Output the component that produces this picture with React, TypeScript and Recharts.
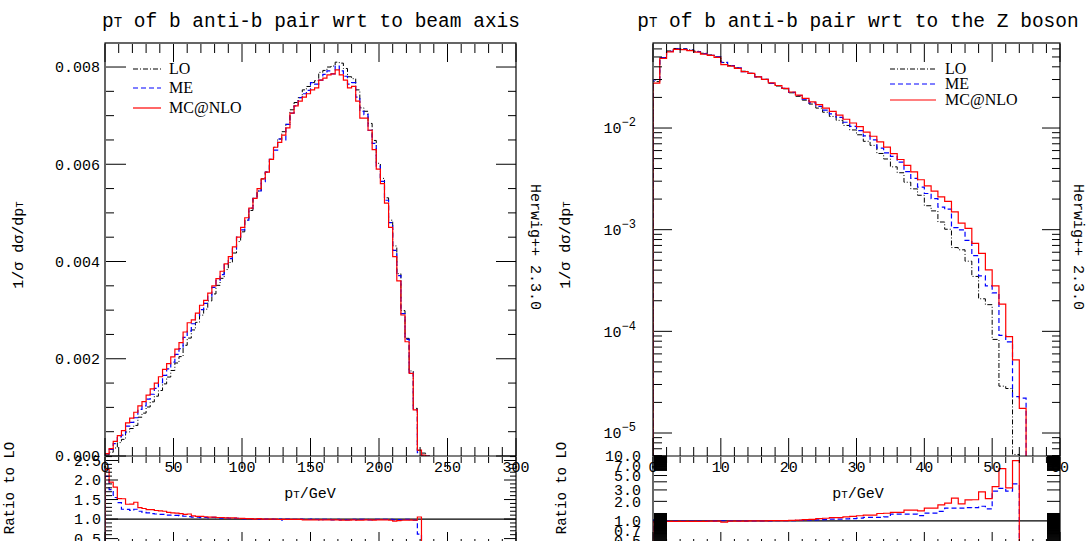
import React from 'react';
import { ComposedChart, Line, XAxis, YAxis, ReferenceLine, Legend } from 'recharts';

const MONO = "'Liberation Mono', 'DejaVu Sans Mono', monospace";
const SERIF = "'Liberation Serif', 'DejaVu Serif', serif";

// ---------------- series meta ----------------
const SERIES_NAMES = ['LO', 'ME', 'MC@NLO'];
const SERIES_KEYS = ['lo', 'me', 'mc'];
const SERIES_COLORS = ['#000000', '#0000ff', '#ff0000'];
const SERIES_DASH: (string | undefined)[] = ['5 2 1 2', '5 3', undefined];

// ---------------- left panel: pT wrt beam axis (3 GeV bins from 0, values in 1e-3 / GeV) ----------------
const BEAM_BIN_WIDTH = 3;
const BEAM_UNIT = 1e-3;
const BEAM_LO = [
  0.022, 0.077, 0.165, 0.276, 0.342, 0.493, 0.565, 0.629, 0.798, 0.882,
  1.008, 1.113, 1.23, 1.347, 1.483, 1.624, 1.759, 1.913, 2.044, 2.277,
  2.425, 2.593, 2.748, 2.897, 3.02, 3.19, 3.333, 3.51, 3.654, 3.835,
  3.98, 4.175, 4.41, 4.61, 4.85, 5.05, 5.3, 5.45, 5.7, 5.84,
  6.1, 6.35, 6.52, 6.67, 6.82, 7.12, 7.27, 7.37, 7.53, 7.6,
  7.68, 7.72, 7.89, 7.93, 8.0, 8.02, 8.1, 8.08, 7.97, 7.8,
  7.76, 7.53, 7.16, 7.09, 6.84, 6.49, 6.02, 5.71, 5.31, 4.85,
  4.32, 3.75, 2.99, 2.42, 1.75, 0.98, 0.114, 0.06, 0,
];
const BEAM_ME = [
  0.046, 0.135, 0.256, 0.392, 0.428, 0.616, 0.69, 0.787, 0.958, 1.032,
  1.17, 1.27, 1.39, 1.51, 1.66, 1.79, 1.93, 2.09, 2.21, 2.44,
  2.57, 2.72, 2.885, 3.01, 3.14, 3.29, 3.47, 3.61, 3.73, 3.95,
  4.06, 4.26, 4.5, 4.65, 4.85, 5.1, 5.3, 5.45, 5.64, 5.84,
  6.1, 6.29, 6.52, 6.5, 6.82, 7.05, 7.2, 7.37, 7.45, 7.52,
  7.68, 7.65, 7.73, 7.85, 7.92, 7.86, 8.02, 7.92, 7.81, 7.65,
  7.68, 7.38, 7.09, 7.02, 6.7, 6.43, 5.96, 5.65, 5.26, 4.8,
  4.23, 3.71, 2.93, 2.4, 1.72, 0.95, 0.07, 0.015, 0,
];
const BEAM_MC = [
  0.05, 0.15, 0.3, 0.42, 0.52, 0.68, 0.78, 0.9, 1.03, 1.12,
  1.25, 1.38, 1.5, 1.63, 1.78, 1.9, 2.04, 2.2, 2.33, 2.55,
  2.74, 2.8, 2.94, 3.1, 3.2, 3.35, 3.5, 3.65, 3.8, 3.95,
  4.1, 4.3, 4.5, 4.7, 4.9, 5.1, 5.3, 5.5, 5.7, 5.84,
  6.1, 6.35, 6.45, 6.6, 6.75, 7.05, 7.2, 7.3, 7.38, 7.45,
  7.53, 7.57, 7.73, 7.77, 7.84, 7.86, 7.94, 7.84, 7.73, 7.57,
  7.6, 7.3, 6.95, 6.95, 6.7, 6.3, 5.9, 5.6, 5.2, 4.7,
  4.1, 3.6, 2.9, 2.35, 1.7, 0.95, 0.12, 0.02, 0,
];

// ---------------- right panel: pT wrt Z boson (1 GeV bins from 0) ----------------
const ZB_BIN_WIDTH = 1;
const ZB_LO = [
  0.0286, 0.0494, 0.0573, 0.0606, 0.0602, 0.0588, 0.0569, 0.0544, 0.0523, 0.05,
  0.044, 0.0411, 0.039, 0.0362, 0.0345, 0.0319, 0.0301, 0.0275, 0.0259, 0.0243,
  0.0222, 0.0205, 0.0188, 0.0172, 0.0157, 0.0143, 0.013, 0.0119, 0.0106, 0.00957,
  0.00858, 0.0074, 0.00675, 0.00562, 0.00496, 0.00415, 0.00363, 0.00293, 0.00252, 0.00218,
  0.00172, 0.00153, 0.00119, 0.00101, 0.000667, 0.000634, 0.00049, 0.000347, 0.000209, 0.000183,
  0.0000833, 0.0000289, 0.0000274, 0.00000615, 0, 0,
];
const ZB_ME = [
  0.0297, 0.0494, 0.0568, 0.06, 0.0596, 0.0582, 0.0563, 0.0539, 0.0518, 0.05,
  0.0442, 0.0411, 0.039, 0.0358, 0.0345, 0.0319, 0.0301, 0.0275, 0.0262, 0.0245,
  0.0224, 0.0209, 0.0192, 0.0177, 0.0163, 0.015, 0.0138, 0.0127, 0.0114, 0.0104,
  0.00944, 0.00836, 0.00763, 0.00635, 0.0057, 0.00527, 0.00461, 0.00372, 0.0032, 0.00262,
  0.00227, 0.00202, 0.00167, 0.00159, 0.00105, 0.000995, 0.000785, 0.000555, 0.000351, 0.00028,
  0.000239, 0.0000913, 0.0000786, 0.0000228, 0.000022, 0,
];
const ZB_MC = [
  0.0277, 0.0484, 0.0562, 0.0594, 0.059, 0.0576, 0.0558, 0.0533, 0.0518, 0.0495,
  0.042, 0.0407, 0.0386, 0.0358, 0.0345, 0.0319, 0.0301, 0.0278, 0.0262, 0.0245,
  0.0226, 0.0211, 0.0196, 0.0181, 0.017, 0.0157, 0.0146, 0.0134, 0.0122, 0.0112,
  0.0103, 0.0091, 0.0083, 0.0073, 0.0065, 0.0056, 0.0049, 0.0043, 0.0037, 0.0031,
  0.0027, 0.0024, 0.0021, 0.0019, 0.0015, 0.00116, 0.00103, 0.000735, 0.000586, 0.000402,
  0.00028, 0.000185, 0.0000887, 0.0000523, 0.0000175, 0,
];

// ---------------- axis tick labels ----------------
const BEAM_Y_LABELS = ['0.000', '0.002', '0.004', '0.006', '0.008'];
const BEAM_X_LABELS = ['0', '50', '100', '150', '200', '250', '300'];
const ZB_X_LABELS = ['0', '10', '20', '30', '40', '50', '60'];
const ZB_Y_DECADES = [-5, -4, -3, -2];
const BEAM_RATIO_LABELS = ['0.5', '1.0', '1.5', '2.0', '2.5'];
const ZB_RATIO_LABELS = ['0.5', '0.7', '1.0', '2.0', '3.0', '5.0', '7.0', '10.0'];

// ---------------- layout ----------------
const W = 1088;
const H = 546;
const LP = { left: 105, right: 516, top: 43, mid: 456, bottom: 546 };
const RP = { left: 653, right: 1060, top: 43, mid: 456, bottom: 546 };
const BEAM_Y_DOMAIN: [number, number] = [0, 0.008494];
const BEAM_RATIO_DOMAIN: [number, number] = [0.31, 2.615];
const ZB_Y_DOMAIN: [number, number] = [5.94e-6, 0.0686];
const ZB_RATIO_DOMAIN: [number, number] = [0.41, 10];
const FLOOR_LOG = 1e-8;
const FLOOR_RATIO = 0.01;
const AX = 1; // axis band thickness (Recharts skips 0-sized axes)

// ---------------- helpers ----------------
type Cols = Record<string, (number | null)[]>;
function stepRows(width: number, cols: Cols, count: number, startFloor?: number, endFloor?: number) {
  const keys = Object.keys(cols);
  const rows: any[] = [];
  if (startFloor !== undefined) {
    const r: any = { x: 0 };
    keys.forEach((k) => (r[k] = startFloor));
    rows.push(r);
  }
  for (let i = 0; i < count; i++) {
    const r: any = { x: i * width };
    keys.forEach((k) => (r[k] = cols[k][i]));
    rows.push(r);
  }
  const end: any = { x: count * width };
  keys.forEach((k) => (end[k] = cols[k][count - 1]));
  rows.push(end);
  if (endFloor !== undefined) {
    const e: any = { x: count * width };
    keys.forEach((k) => (e[k] = endFloor));
    rows.push(e);
  }
  return rows;
}
const scaleArr = (a: number[], u: number) => a.map((v) => v * u);
const ratioArr = (num: number[], den: number[]) => num.map((v, i) => (den[i] > 0 ? v / den[i] : null));
const floorArr = (a: number[], f: number) => a.map((v) => (v > 0 ? v : f));
const countPositive = (a: number[]) => a.filter((v) => v > 0).length;

const range = (a: number, b: number, step: number) => {
  const out: number[] = [];
  const n = Math.round((b - a) / step);
  for (let i = 0; i <= n; i++) out.push(Math.round((a + i * step) * 1e9) / 1e9);
  return out;
};
const isMult = (v: number, m: number) => Math.abs(v / m - Math.round(v / m)) < 1e-6;
const logTicks = (lo: number, hi: number) => {
  const out: number[] = [];
  for (let e = -7; e <= 1; e++) for (let k = 1; k <= 9; k++) {
    const v = k * Math.pow(10, e);
    if (v >= lo * 0.999 && v <= hi * 1.001) out.push(v);
  }
  return out;
};
const isDecade = (v: number) => Math.abs(Math.log10(v) - Math.round(Math.log10(v))) < 1e-6;

// ---------------- data tables ----------------
const beamMainRows = stepRows(BEAM_BIN_WIDTH, {
  lo: scaleArr(BEAM_LO, BEAM_UNIT), me: scaleArr(BEAM_ME, BEAM_UNIT), mc: scaleArr(BEAM_MC, BEAM_UNIT),
}, BEAM_LO.length);
const beamRatioCount = countPositive(BEAM_LO);
const beamRatioRows = stepRows(BEAM_BIN_WIDTH, {
  me: ratioArr(BEAM_ME, BEAM_LO), mc: ratioArr(BEAM_MC, BEAM_LO),
}, beamRatioCount, FLOOR_RATIO, FLOOR_RATIO);
const zbMainRows = stepRows(ZB_BIN_WIDTH, {
  lo: floorArr(ZB_LO, FLOOR_LOG), me: floorArr(ZB_ME, FLOOR_LOG), mc: floorArr(ZB_MC, FLOOR_LOG),
}, ZB_LO.length, FLOOR_LOG);
const zbRatioCount = countPositive(ZB_LO);
const zbRatioRows = stepRows(ZB_BIN_WIDTH, {
  me: ratioArr(ZB_ME, ZB_LO), mc: ratioArr(ZB_MC, ZB_LO),
}, zbRatioCount, FLOOR_RATIO, FLOOR_RATIO);

// ---------------- custom ticks ----------------
type TickOpts = {
  side: 'left' | 'right' | 'top' | 'bottom';
  isMajor: (v: number) => boolean;
  major: number;
  minor: number;
  label?: (v: number) => React.ReactNode | null;
  labelOffset?: number;
};
const makeTick = (o: TickOpts) => (props: any) => {
  const { payload } = props;
  let { x, y } = props;
  if (o.side === 'left') x = x + AX;
  if (o.side === 'top') y = y + AX;
  const v = payload.value as number;
  const maj = o.isMajor(v);
  const len = maj ? o.major : o.minor;
  let x2 = x;
  let y2 = y;
  if (o.side === 'left') x2 = x + len;
  if (o.side === 'right') x2 = x - len;
  if (o.side === 'top') y2 = y + len;
  if (o.side === 'bottom') y2 = y - len;
  const lab = maj && o.label ? o.label(v) : null;
  let text: React.ReactNode = null;
  if (lab !== null && lab !== undefined) {
    if (o.side === 'left') {
      text = (
        <text x={x - (o.labelOffset ?? 6)} y={y} dy="0.35em" textAnchor="end" fontFamily={MONO} fontSize={15} fill="#000">
          {lab}
        </text>
      );
    } else if (o.side === 'bottom') {
      text = (
        <text x={x} y={y + (o.labelOffset ?? 11)} dy="0.35em" textAnchor="middle" fontFamily={MONO} fontSize={15} fill="#000">
          {lab}
        </text>
      );
    }
  }
  return (
    <g>
      <line x1={x} y1={y} x2={x2} y2={y2} stroke="#000" strokeWidth={1} />
      {text}
    </g>
  );
};

const labelFrom = (values: number[], labels: string[]) => (v: number) => {
  const i = values.findIndex((u) => Math.abs(u - v) < 1e-9 * Math.max(1, Math.abs(u)));
  return i >= 0 ? labels[i] : null;
};

// beam main
const beamYTicks = range(0, 0.008, 0.0005);
const beamYMajor = (v: number) => isMult(v, 0.002);
const beamYLabel = labelFrom([0, 0.002, 0.004, 0.006, 0.008], BEAM_Y_LABELS);
const beamXTicks = range(0, 300, 10);
const beamXMajor = (v: number) => isMult(v, 50);
const beamXLabel = labelFrom([0, 50, 100, 150, 200, 250, 300], BEAM_X_LABELS);
// beam ratio
const beamRTicks = range(0.4, 2.6, 0.1);
const beamRMajor = (v: number) => isMult(v, 0.5);
const beamRLabel = labelFrom([0.5, 1.0, 1.5, 2.0, 2.5], BEAM_RATIO_LABELS);
// zb main
const zbYTicks = logTicks(ZB_Y_DOMAIN[0], ZB_Y_DOMAIN[1]);
const zbYLabel = (v: number) => {
  const e = Math.round(Math.log10(v));
  if (!ZB_Y_DECADES.includes(e)) return null;
  return (
    <>
      <tspan>10</tspan>
      <tspan dy={-7} fontSize={12}>{`\u2212${-e}`}</tspan>
    </>
  );
};
const zbXTicks = range(0, 60, 2);
const zbXMajor = (v: number) => isMult(v, 10);
const zbXLabel = labelFrom([0, 10, 20, 30, 40, 50, 60], ZB_X_LABELS);
// zb ratio
const zbRTicks = [
  ...range(0.42, 1.3, 0.01),
  2, 3, 4, 5,
  ...range(6, 10, 0.1),
];
const zbRLabel = labelFrom([0.5, 0.7, 1, 2, 3, 5, 7, 10], ZB_RATIO_LABELS);

// ---------------- legend ----------------
const LegendBox = ({ rowH, lineLen, gap }: { rowH: number; lineLen: number; gap: number }) => (
  <div style={{ display: 'flex', flexDirection: 'column' }}>
    {SERIES_NAMES.map((name, i) => (
      <div key={name} style={{ display: 'flex', alignItems: 'center', height: rowH }}>
        <svg width={lineLen} height={6} style={{ marginRight: gap, display: 'block' }}>
          <line x1={0} x2={lineLen} y1={3} y2={3} stroke={SERIES_COLORS[i]} strokeWidth={1.2} strokeDasharray={SERIES_DASH[i]} />
        </svg>
        <span style={{ fontFamily: SERIF, fontSize: 16, lineHeight: 1, color: '#000', whiteSpace: 'nowrap' }}>{name}</span>
      </div>
    ))}
  </div>
);

const seriesLines = (keys: string[], idx: number[]) =>
  keys.map((k, j) => (
    <Line
      key={k}
      xAxisId="b"
      yAxisId="l"
      type="stepAfter"
      dataKey={k}
      stroke={SERIES_COLORS[idx[j]]}
      strokeDasharray={SERIES_DASH[idx[j]]}
      strokeWidth={idx[j] === 0 ? 1 : 1.2}
      dot={false}
      activeDot={false}
      isAnimationActive={false}
      connectNulls={false}
    />
  ));

type PanelProps = {
  P: { left: number; right: number; top: number; mid: number; bottom: number };
};

const axisCommon = { tickLine: false, tickSize: 0, tickMargin: 0, interval: 0 as const, allowDataOverflow: true };
const marginFor = (left: number, right: number, top: number, bottom: number) => ({
  left: left - AX,
  right: W - right - AX,
  top: top - AX,
  bottom: H - bottom - AX,
});

function BeamMain({ P }: PanelProps) {
  return (
    <ComposedChart width={W} height={H} data={beamMainRows} margin={marginFor(P.left, P.right, P.top, P.mid)}>
      <XAxis xAxisId="b" type="number" dataKey="x" domain={[0, 300]} ticks={beamXTicks} height={AX} orientation="bottom"
        axisLine={false} {...axisCommon}
        tick={makeTick({ side: 'bottom', isMajor: beamXMajor, major: 18, minor: 9, label: beamXLabel, labelOffset: 11 })} />
      <XAxis xAxisId="t" type="number" dataKey="x" domain={[0, 300]} ticks={beamXTicks} height={AX} orientation="top"
        axisLine={false} {...axisCommon}
        tick={makeTick({ side: 'top', isMajor: beamXMajor, major: 18, minor: 9 })} />
      <YAxis yAxisId="l" type="number" domain={BEAM_Y_DOMAIN} ticks={beamYTicks} width={AX} orientation="left"
        axisLine={false} {...axisCommon}
        tick={makeTick({ side: 'left', isMajor: beamYMajor, major: 20, minor: 8, label: beamYLabel, labelOffset: 6 })} />
      <YAxis yAxisId="r" type="number" domain={BEAM_Y_DOMAIN} ticks={beamYTicks} width={AX} orientation="right"
        axisLine={false} {...axisCommon}
        tick={makeTick({ side: 'right', isMajor: beamYMajor, major: 20, minor: 8 })} />
      {seriesLines(SERIES_KEYS, [0, 1, 2])}
      <Legend layout="vertical" align="center" verticalAlign="middle"
        wrapperStyle={{ left: 133, top: 59, width: 130, height: 60 }}
        content={() => <LegendBox rowH={19.5} lineLen={28} gap={8} />} />
    </ComposedChart>
  );
}

function BeamRatio({ P }: PanelProps) {
  return (
    <ComposedChart width={W} height={H} data={beamRatioRows} margin={marginFor(P.left, P.right, P.mid, P.bottom)}>
      <XAxis xAxisId="b" type="number" dataKey="x" domain={[0, 300]} ticks={beamXTicks} height={AX} orientation="bottom"
        axisLine={false} {...axisCommon}
        tick={makeTick({ side: 'bottom', isMajor: beamXMajor, major: 14, minor: 7 })} />
      <XAxis xAxisId="t" type="number" dataKey="x" domain={[0, 300]} ticks={beamXTicks} height={AX} orientation="top"
        axisLine={false} {...axisCommon}
        tick={makeTick({ side: 'top', isMajor: beamXMajor, major: 12, minor: 6 })} />
      <YAxis yAxisId="l" type="number" domain={BEAM_RATIO_DOMAIN} ticks={beamRTicks} width={AX} orientation="left"
        axisLine={false} {...axisCommon}
        tick={makeTick({ side: 'left', isMajor: beamRMajor, major: 12, minor: 6, label: beamRLabel, labelOffset: 5 })} />
      <YAxis yAxisId="r" type="number" domain={BEAM_RATIO_DOMAIN} ticks={beamRTicks} width={AX} orientation="right"
        axisLine={false} {...axisCommon}
        tick={makeTick({ side: 'right', isMajor: beamRMajor, major: 12, minor: 6 })} />
      <ReferenceLine xAxisId="b" yAxisId="l" y={1} stroke="#000" strokeWidth={1.2} />
      {seriesLines(['me', 'mc'], [1, 2])}
    </ComposedChart>
  );
}

function ZbMain({ P }: PanelProps) {
  return (
    <ComposedChart width={W} height={H} data={zbMainRows} margin={marginFor(P.left, P.right, P.top, P.mid)}>
      <XAxis xAxisId="b" type="number" dataKey="x" domain={[0, 60]} ticks={zbXTicks} height={AX} orientation="bottom"
        axisLine={false} {...axisCommon}
        tick={makeTick({ side: 'bottom', isMajor: zbXMajor, major: 18, minor: 9, label: zbXLabel, labelOffset: 11 })} />
      <XAxis xAxisId="t" type="number" dataKey="x" domain={[0, 60]} ticks={zbXTicks} height={AX} orientation="top"
        axisLine={false} {...axisCommon}
        tick={makeTick({ side: 'top', isMajor: zbXMajor, major: 18, minor: 9 })} />
      <YAxis yAxisId="l" type="number" scale="log" domain={ZB_Y_DOMAIN} ticks={zbYTicks} width={AX} orientation="left"
        axisLine={false} {...axisCommon}
        tick={makeTick({ side: 'left', isMajor: isDecade, major: 18, minor: 8, label: zbYLabel, labelOffset: 18 })} />
      <YAxis yAxisId="r" type="number" scale="log" domain={ZB_Y_DOMAIN} ticks={zbYTicks} width={AX} orientation="right"
        axisLine={false} {...axisCommon}
        tick={makeTick({ side: 'right', isMajor: isDecade, major: 18, minor: 8 })} />
      {seriesLines(SERIES_KEYS, [0, 1, 2])}
      <Legend layout="vertical" align="center" verticalAlign="middle"
        wrapperStyle={{ left: 890, top: 61, width: 150, height: 50 }}
        content={() => <LegendBox rowH={15.5} lineLen={46} gap={9} />} />
    </ComposedChart>
  );
}

function ZbRatio({ P }: PanelProps) {
  return (
    <ComposedChart width={W} height={H} data={zbRatioRows} margin={marginFor(P.left, P.right, P.mid, P.bottom)}>
      <XAxis xAxisId="b" type="number" dataKey="x" domain={[0, 60]} ticks={zbXTicks} height={AX} orientation="bottom"
        axisLine={false} {...axisCommon}
        tick={makeTick({ side: 'bottom', isMajor: zbXMajor, major: 14, minor: 7 })} />
      <XAxis xAxisId="t" type="number" dataKey="x" domain={[0, 60]} ticks={zbXTicks} height={AX} orientation="top"
        axisLine={false} {...axisCommon}
        tick={makeTick({ side: 'top', isMajor: zbXMajor, major: 12, minor: 6 })} />
      <YAxis yAxisId="l" type="number" scale="log" domain={ZB_RATIO_DOMAIN} ticks={zbRTicks} width={AX} orientation="left"
        axisLine={false} {...axisCommon}
        tick={makeTick({ side: 'left', isMajor: () => true, major: 13, minor: 13, label: zbRLabel, labelOffset: 13 })} />
      <YAxis yAxisId="r" type="number" scale="log" domain={ZB_RATIO_DOMAIN} ticks={zbRTicks} width={AX} orientation="right"
        axisLine={false} {...axisCommon}
        tick={makeTick({ side: 'right', isMajor: () => true, major: 13, minor: 13 })} />
      <ReferenceLine xAxisId="b" yAxisId="l" y={1} stroke="#000" strokeWidth={1.2} />
      {seriesLines(['me', 'mc'], [1, 2])}
    </ComposedChart>
  );
}

const PT = ({ size }: { size: number }) => (
  <>
    p<tspan fontSize={size * 0.72}>T</tspan>
  </>
);

function Frames() {
  const s = { fill: 'none', stroke: '#000', strokeWidth: 1.2 };
  return (
    <svg width={W} height={541} style={{ position: 'absolute', left: 0, top: 0, pointerEvents: 'none' }}>
      <rect x={LP.left} y={LP.top} width={LP.right - LP.left} height={LP.bottom - LP.top} {...s} />
      <line x1={LP.left} x2={LP.right} y1={LP.mid} y2={LP.mid} {...s} />
      <rect x={RP.left} y={RP.top} width={RP.right - RP.left} height={RP.bottom - RP.top} {...s} />
      <line x1={RP.left} x2={RP.right} y1={RP.mid} y2={RP.mid} {...s} />
    </svg>
  );
}

function Overlay() {
  const t = { fontFamily: MONO, fill: '#000' };
  return (
    <svg width={W} height={541} style={{ position: 'absolute', left: 0, top: 0, pointerEvents: 'none' }}>
      <text x={311} y={27} textAnchor="middle" fontSize={19.5} {...t}>
        <PT size={19.5} /> of b anti-b pair wrt to beam axis
      </text>
      <text x={858} y={27} textAnchor="middle" fontSize={19.5} {...t}>
        <PT size={19.5} /> of b anti-b pair wrt to the Z boson
      </text>
      <text x={310} y={498} textAnchor="middle" fontSize={15} {...t}>
        <PT size={15} />/GeV
      </text>
      <text x={858} y={498} textAnchor="middle" fontSize={15} {...t}>
        <PT size={15} />/GeV
      </text>
      <text transform="translate(23,245) rotate(-90)" textAnchor="middle" fontSize={15} {...t}>
        1/σ dσ/d<PT size={15} />
      </text>
      <text transform="translate(570,245) rotate(-90)" textAnchor="middle" fontSize={15} {...t}>
        1/σ dσ/d<PT size={15} />
      </text>
      <text transform="translate(531,247) rotate(90)" textAnchor="middle" fontSize={15} {...t}>
        Herwig++ 2.3.0
      </text>
      <text transform="translate(1074,247) rotate(90)" textAnchor="middle" fontSize={15} {...t}>
        Herwig++ 2.3.0
      </text>
      <text transform="translate(14,488) rotate(-90)" textAnchor="middle" fontSize={14} {...t}>
        Ratio to LO
      </text>
      <text transform="translate(566,488) rotate(-90)" textAnchor="middle" fontSize={14} {...t}>
        Ratio to LO
      </text>
    </svg>
  );
}

export default function App() {
  const layer: React.CSSProperties = { position: 'absolute', left: 0, top: 0 };
  return (
    <div style={{ position: 'absolute', left: 0, top: 0, width: W, height: 541, overflow: 'hidden', background: '#fff' }}>
      <div style={layer}><BeamRatio P={LP} /></div>
      <div style={layer}><ZbRatio P={RP} /></div>
      <div style={layer}><BeamMain P={LP} /></div>
      <div style={layer}><ZbMain P={RP} /></div>
      <Frames />
      <Overlay />
    </div>
  );
}
